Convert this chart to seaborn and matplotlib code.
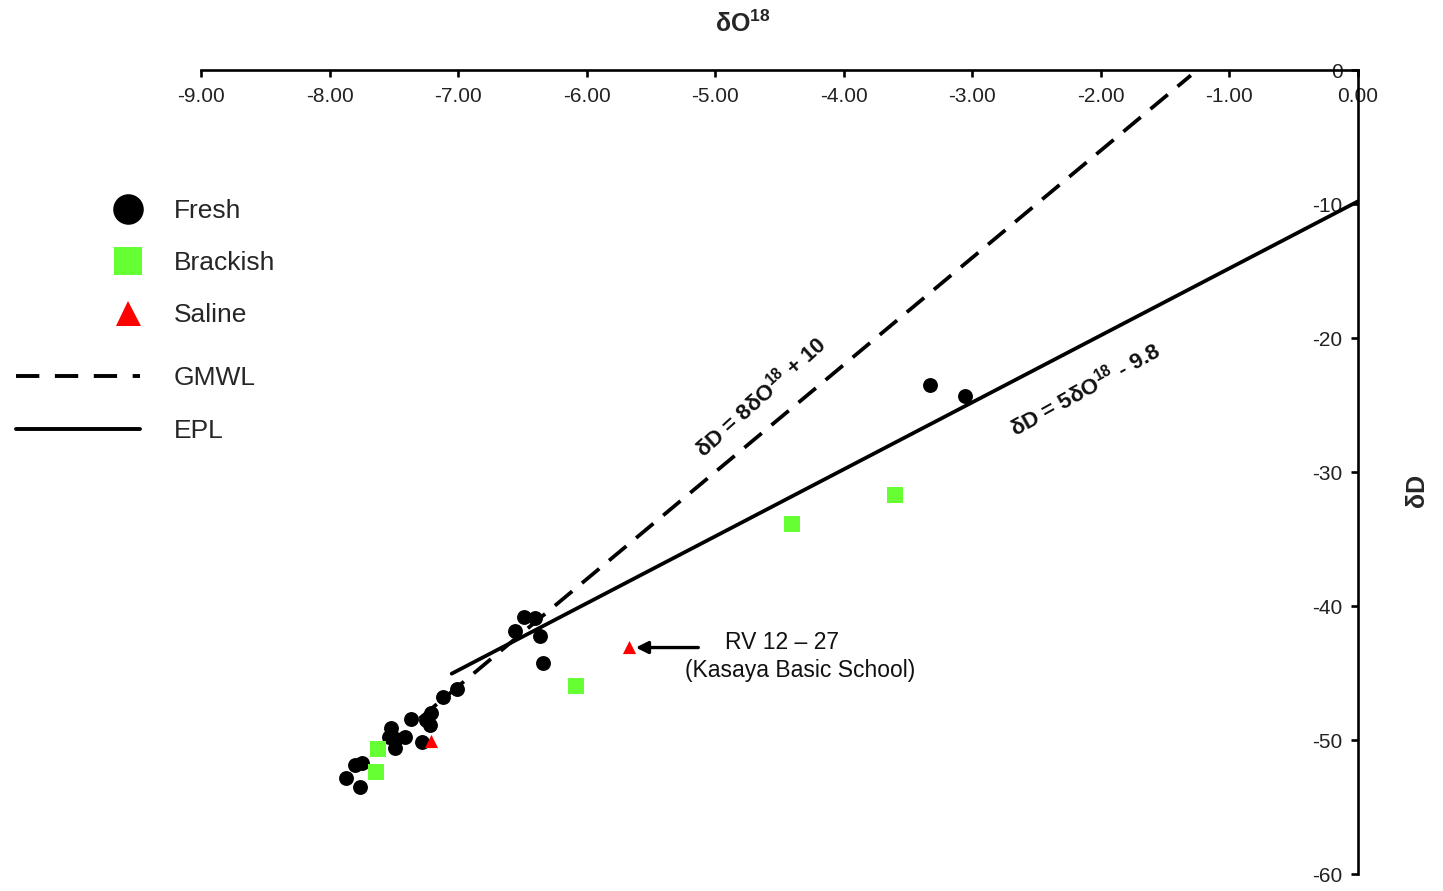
import numpy as np
import pandas as pd
import matplotlib
matplotlib.use("Agg")
import matplotlib.pyplot as plt
from matplotlib.lines import Line2D
import seaborn as sns

# ---- data ----
fresh_x = [-6.49, -6.40, -6.56, -6.36, -6.34, -7.01, -7.12, -7.21, -7.25, -7.37, -7.22,
           -7.52, -7.41, -7.54, -7.48, -7.49, -7.28, -7.75, -7.80, -7.87, -7.76, -3.33, -3.06]
fresh_y = [-40.80, -40.92, -41.87, -42.24, -44.28, -46.22, -46.81, -48.01, -48.51, -48.46, -48.88,
           -49.13, -49.75, -49.75, -49.90, -50.62, -50.13, -51.74, -51.87, -52.86, -53.49, -23.51, -24.33]
brackish_x = [-7.62, -7.64, -6.08, -4.40, -3.60]
brackish_y = [-50.67, -52.39, -45.97, -33.88, -31.72]
saline_x = [-7.21, -5.67]
saline_y = [-50.07, -43.06]

gmwl_x = [-7.30, -1.30]
gmwl_slope, gmwl_intercept = 8.0, 10.0
epl_x = [-7.05, 0.0]
epl_slope, epl_intercept = 5.0, -9.8

x_ticks = [-9, -8, -7, -6, -5, -4, -3, -2, -1, 0]
y_ticks = [0, -10, -20, -30, -40, -50, -60]

categories = ["Fresh", "Brackish", "Saline"]
colors = {"Fresh": "#000000", "Brackish": "#66FF33", "Saline": "#FF0000"}
markers = {"Fresh": "o", "Brackish": "s", "Saline": "^"}
sizes = {"Fresh": 115, "Brackish": 125, "Saline": 90}

df = pd.DataFrame({
    "d18O": fresh_x + brackish_x + saline_x,
    "dD": fresh_y + brackish_y + saline_y,
    "type": ["Fresh"] * len(fresh_x) + ["Brackish"] * len(brackish_x) + ["Saline"] * len(saline_x),
})

sns.set_theme(style="white")
plt.rcParams["font.family"] = ["Liberation Sans", "DejaVu Sans"]
plt.rcParams["mathtext.default"] = "regular"
plt.rcParams["axes.unicode_minus"] = False

fig = plt.figure(figsize=(14.43, 8.91), dpi=100)
ax = fig.add_axes([201 / 1443, 1 - 874 / 891, (1358 - 201) / 1443, (874 - 70) / 891])

# lines
gx = np.array(gmwl_x)
ex = np.array(epl_x)
sns.lineplot(x=gx, y=gmwl_slope * gx + gmwl_intercept, ax=ax, color="black", lw=2.7,
             linestyle=(0, (6.0, 3.4)))
sns.lineplot(x=ex, y=epl_slope * ex + epl_intercept, ax=ax, color="black", lw=2.7)

# points
for cat in categories:
    sub = df[df["type"] == cat]
    sns.scatterplot(data=sub, x="d18O", y="dD", ax=ax, color=colors[cat], marker=markers[cat],
                    s=sizes[cat], linewidth=0, legend=False, zorder=3)

ax.set_xlim(-9, 0)
ax.set_ylim(-60, 0)

# axes at top / right
ax.spines["top"].set_visible(False)
ax.spines["right"].set_visible(False)
ax.spines["bottom"].set_position(("data", 0))
ax.spines["left"].set_position(("data", 0))
for s in ["bottom", "left"]:
    ax.spines[s].set_linewidth(1.9)
    ax.spines[s].set_color("black")
ax.set_xticks(x_ticks)
ax.set_xticklabels([f"{v:.2f}" for v in x_ticks])
ax.set_yticks(y_ticks)
ax.set_yticklabels([f"{v:d}" for v in y_ticks])
ax.tick_params(axis="both", direction="out", length=5, width=1.9, color="black",
               labelsize=15, labelcolor="#222222", pad=7)
ax.tick_params(axis="y", pad=6)
ax.tick_params(bottom=True, left=True)
ax.grid(False)
ax.set_xlabel("δO$^{18}$", fontsize=18, fontweight="bold")
ax.xaxis.set_label_position("top")
ax.xaxis.labelpad = 27
ax.xaxis.label.set_x((743 - 201) / 1157)
ax.set_ylabel("δD", fontsize=18, fontweight="bold")
ax.yaxis.set_label_position("right")
ax.yaxis.labelpad = 34
ax.yaxis.label.set_y((874 - 490) / 804)

# line labels
ax.text(-4.65, -24.4, "δD = 8δO$^{18}$ + 10", fontsize=16, fontweight="bold",
        rotation=42, rotation_mode="anchor", ha="center", va="center", color="#111111")
ax.text(-2.12, -23.8, "δD = 5δO$^{18}$ - 9.8", fontsize=16, fontweight="bold",
        rotation=29, rotation_mode="anchor", ha="center", va="center", color="#111111")

# annotation
ax.annotate("", xy=(-5.64, -43.1), xytext=(-5.11, -43.1),
            arrowprops=dict(arrowstyle="-|>", color="black", lw=2.4, mutation_scale=18))
ax.text(-4.48, -42.75, "RV 12 – 27", fontsize=16.5, ha="center", va="center", color="#111111")
ax.text(-4.34, -44.8, "(Kasaya Basic School)", fontsize=16.5, ha="center", va="center", color="#111111")

# legends
mk_handles = [
    Line2D([], [], linestyle="none", marker="o", markersize=22, color="black", markeredgewidth=0),
    Line2D([], [], linestyle="none", marker="s", markersize=20, color="#66FF33", markeredgewidth=0),
    Line2D([], [], linestyle="none", marker="^", markersize=18, color="#FF0000", markeredgewidth=0),
]
leg1 = fig.legend(mk_handles, categories, loc="upper left", bbox_to_anchor=(108 / 1443, 1 - 199 / 891),
                  frameon=False, fontsize=19, handlelength=1.5, handletextpad=1.0,
                  labelspacing=1.06, borderpad=0, borderaxespad=0)
ln_handles = [
    Line2D([], [], color="black", lw=2.8, linestyle=(0, (6, 4))),
    Line2D([], [], color="black", lw=2.8),
]
leg2 = fig.legend(ln_handles, ["GMWL", "EPL"], loc="upper left", bbox_to_anchor=(16 / 1443, 1 - 366 / 891),
                  frameon=False, fontsize=19, handlelength=4.7, handletextpad=1.28,
                  labelspacing=1.1, borderpad=0, borderaxespad=0)

fig.savefig("out.png", dpi=100)
